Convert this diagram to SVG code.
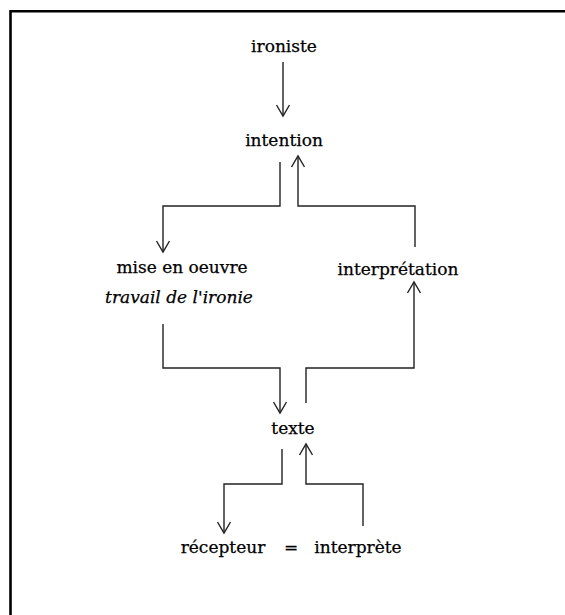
<svg xmlns="http://www.w3.org/2000/svg" width="565" height="615" viewBox="0 0 565 615">
<style>
text { font-family: "DejaVu Serif", "Liberation Serif", serif; font-size: 17px; fill: #000; stroke: #000; stroke-width: 0.25; }
.it { font-style: italic; }
.c { fill: none; stroke: #222; stroke-width: 1.4; }
</style>
<defs>
<marker id="ah" markerUnits="userSpaceOnUse" markerWidth="16" markerHeight="16" refX="0" refY="0" viewBox="-13 -8 15 16" orient="auto" overflow="visible">
<path d="M-11,-6.5 L0,0 L-11,6.5" fill="none" stroke="#222" stroke-width="1.4"/>
</marker>
</defs>
<rect width="565" height="615" fill="#fff"/>
<path d="M10.5,615 V11.3 H565" fill="none" stroke="#000" stroke-width="2.6"/>
<g id="ironiste"><text x="284" y="52" text-anchor="middle">ironiste</text></g>
<g id="intention"><text x="284" y="146" text-anchor="middle">intention</text></g>
<g id="mise-en-oeuvre"><text x="182" y="273" text-anchor="middle">mise en oeuvre</text><text class="it" x="179" y="303" text-anchor="middle">travail de l'ironie</text></g>
<g id="interpretation"><text x="398" y="275" text-anchor="middle">interprétation</text></g>
<g id="texte"><text x="293" y="434" text-anchor="middle">texte</text></g>
<g id="recepteur"><text x="223" y="553" text-anchor="middle">récepteur</text></g>
<g id="egal"><text x="291" y="553" text-anchor="middle">=</text></g>
<g id="interprete"><text x="358" y="553" text-anchor="middle">interprète</text></g>
<g id="connectors">
<path class="c" d="M283,62 V116" marker-end="url(#ah)"/>
<path class="c" d="M280,162 V206 H163 V252" marker-end="url(#ah)"/>
<path class="c" d="M415,247 V206 H298 V156" marker-end="url(#ah)"/>
<path class="c" d="M163,324 V368 H280 V413" marker-end="url(#ah)"/>
<path class="c" d="M306,403 V368 H414 V282" marker-end="url(#ah)"/>
<path class="c" d="M282,449 V484 H224 V533" marker-end="url(#ah)"/>
<path class="c" d="M363,526 V484 H306 V444" marker-end="url(#ah)"/>
</g>
</svg>
